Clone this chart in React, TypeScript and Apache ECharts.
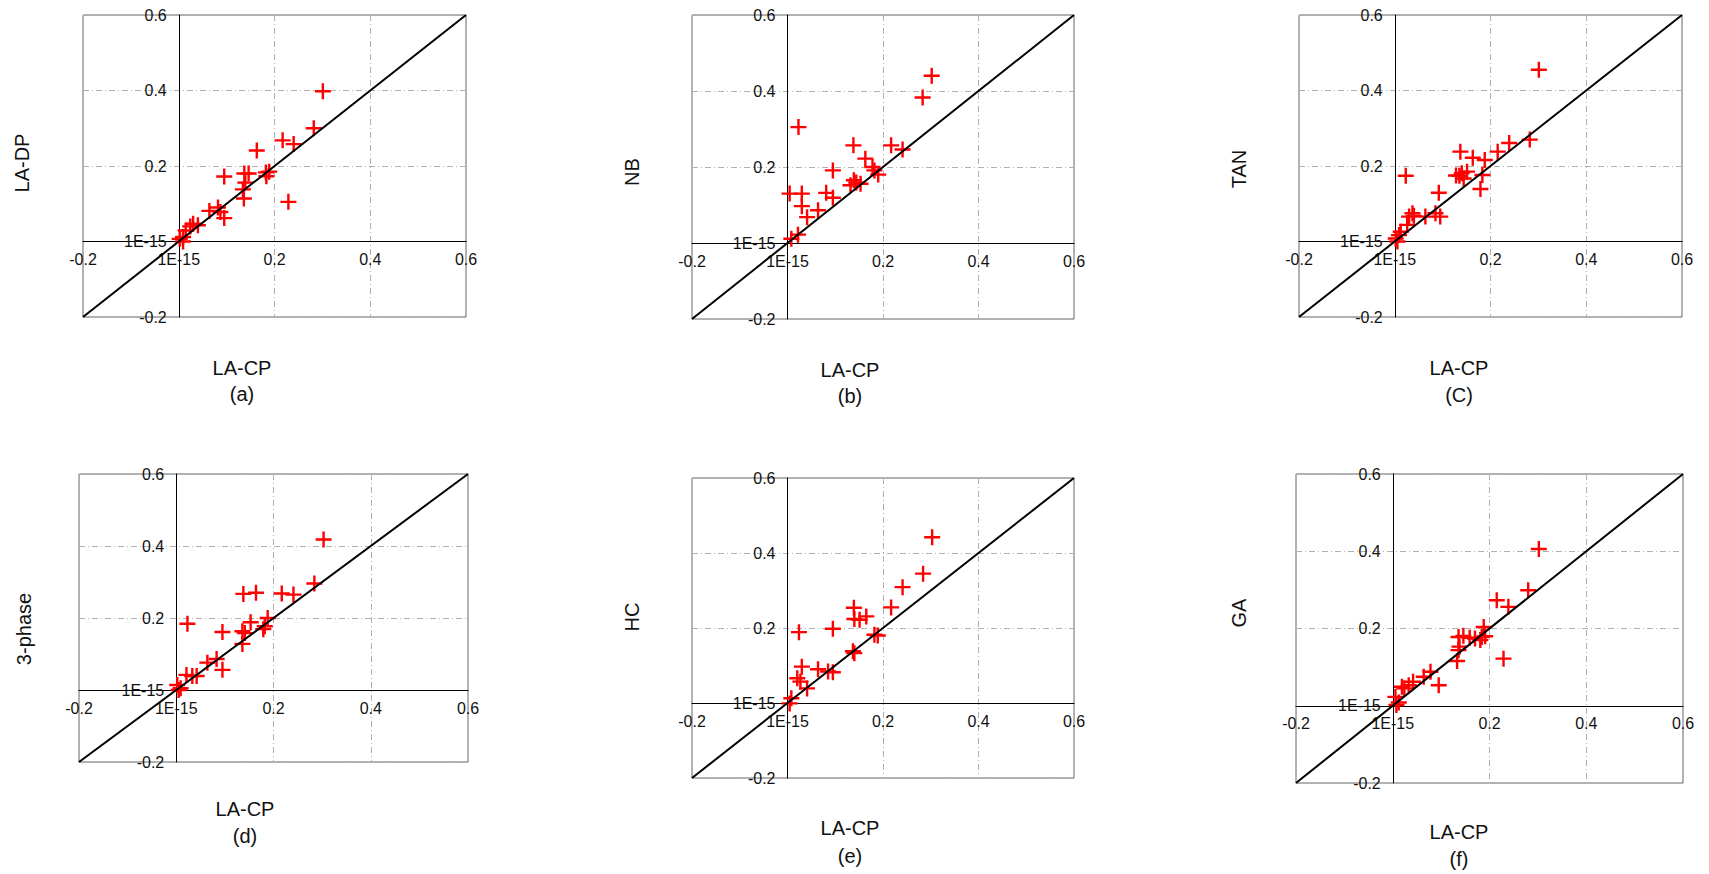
import React, { useEffect, useRef } from "react";
import * as echarts from "echarts";

// LA-CP (x) vs. each method (y)
const ptsLADP: number[][] = [
  [0.301, 0.398], [0.282, 0.3], [0.217, 0.268], [0.24, 0.258], [0.163, 0.241], [0.095, 0.172],
  [0.137, 0.18], [0.146, 0.18], [0.139, 0.156], [0.134, 0.138], [0.136, 0.114], [0.182, 0.183],
  [0.189, 0.185], [0.183, 0.173], [0.229, 0.105], [0.082, 0.09], [0.064, 0.081], [0.095, 0.062],
  [0.087, 0.078], [0.04, 0.043], [0.03, 0.047], [0.024, 0.04], [0.0145, 0.029], [0.009, 0.012],
  [0.009, 0.0], [0.002, 0.007],
];
const ptsNB: number[][] = [
  [0.302, 0.44], [0.283, 0.383], [0.023, 0.305], [0.138, 0.257], [0.217, 0.257], [0.241, 0.246],
  [0.163, 0.222], [0.178, 0.2], [0.182, 0.191], [0.19, 0.18], [0.095, 0.191], [0.139, 0.165],
  [0.144, 0.159], [0.153, 0.156], [0.132, 0.152], [0.081, 0.132], [0.095, 0.119], [0.064, 0.086],
  [0.0045, 0.13], [0.03, 0.13], [0.03, 0.097], [0.041, 0.068], [0.022, 0.022], [0.008, 0.011],
];
const ptsTAN: number[][] = [
  [0.301, 0.455], [0.282, 0.27], [0.239, 0.261], [0.215, 0.238], [0.137, 0.238], [0.163, 0.222],
  [0.188, 0.216], [0.151, 0.185], [0.14, 0.181], [0.135, 0.174], [0.128, 0.175], [0.144, 0.167],
  [0.183, 0.176], [0.179, 0.139], [0.092, 0.129], [0.023, 0.174], [0.037, 0.075], [0.04, 0.068],
  [0.03, 0.066], [0.064, 0.066], [0.085, 0.075], [0.095, 0.066], [0.026, 0.044], [0.0125, 0.026],
  [0.009, 0.017], [0.002, 0.008], [0.0055, 0.0],
];
const pts3Phase: number[][] = [
  [0.303, 0.418], [0.284, 0.296], [0.138, 0.267], [0.164, 0.27], [0.217, 0.268], [0.241, 0.265],
  [0.023, 0.184], [0.153, 0.188], [0.188, 0.2], [0.182, 0.177], [0.179, 0.169], [0.095, 0.161],
  [0.136, 0.163], [0.141, 0.158], [0.136, 0.128], [0.064, 0.076], [0.083, 0.086], [0.095, 0.056],
  [0.021, 0.042], [0.033, 0.039], [0.042, 0.039], [0.002, 0.014], [0.009, 0.005], [0.005, 0.0],
];
const ptsHC: number[][] = [
  [0.303, 0.442], [0.284, 0.345], [0.241, 0.309], [0.217, 0.255], [0.139, 0.254], [0.14, 0.224],
  [0.151, 0.222], [0.165, 0.231], [0.095, 0.198], [0.024, 0.189], [0.182, 0.182], [0.189, 0.18],
  [0.137, 0.138], [0.14, 0.133], [0.03, 0.097], [0.064, 0.09], [0.085, 0.084], [0.095, 0.082],
  [0.0205, 0.066], [0.027, 0.057], [0.041, 0.039], [0.008, 0.0125], [0.0045, -0.001],
];
const ptsGA: number[][] = [
  [0.302, 0.406], [0.28, 0.299], [0.215, 0.273], [0.239, 0.256], [0.188, 0.204], [0.136, 0.178],
  [0.146, 0.181], [0.159, 0.176], [0.17, 0.174], [0.184, 0.178], [0.181, 0.17], [0.191, 0.18],
  [0.138, 0.153], [0.136, 0.144], [0.133, 0.116], [0.229, 0.122], [0.078, 0.088], [0.064, 0.075],
  [0.095, 0.053], [0.042, 0.062], [0.033, 0.053], [0.024, 0.045], [0.019, 0.049], [0.0055, 0.023],
  [0.0124, 0.0086], [0.0076, 0.002],
];

const yNames = ["LA-DP", "NB", "TAN", "3-phase", "HC", "GA"];
const captions = ["(a)", "(b)", "(C)", "(d)", "(e)", "(f)"];
const xName = "LA-CP";
const axisMin = -0.2;
const axisMax = 0.6;
const axisStep = 0.2;
const diagonal = [-0.2, 0.6];

const datasets = [ptsLADP, ptsNB, ptsTAN, pts3Phase, ptsHC, ptsGA];

// layout (pixels)
const grids = [
  { left: 83, top: 15, width: 383, height: 302 },
  { left: 692, top: 15, width: 382, height: 304 },
  { left: 1299, top: 15, width: 383, height: 302 },
  { left: 79, top: 474, width: 389, height: 288 },
  { left: 692, top: 478, width: 382, height: 300 },
  { left: 1296, top: 474, width: 387, height: 309 },
];
const yNamePos = [
  [22, 163], [632, 172], [1239, 169], [24, 629], [632, 617], [1239, 613],
];
const xNamePos = [
  [242, 368], [850, 370], [1459, 368], [245, 809], [850, 828], [1459, 832],
];
const capPos = [
  [242, 394], [850, 396], [1459, 395], [245, 836], [850, 856], [1459, 859],
];

const FONT = "'Liberation Sans', Arial, sans-serif";
const PLUS = "path://M6.8,0h2.4v6.8h6.8v2.4h-6.8v6.8h-2.4v-6.8h-6.8v-2.4h6.8z";

const fmt = (v: number) => (Math.abs(v) < 1e-9 ? "1E-15" : String(+v.toFixed(1)));

export default function App() {
  const ref = useRef<HTMLDivElement>(null);
  useEffect(() => {
    if (!ref.current) return;
    const chart = echarts.init(ref.current, undefined, { renderer: "svg" });
    const splitLine = {
      show: true,
      lineStyle: { color: "#b0b0b0", width: 1, type: [6, 3, 1, 3] },
    };
    // fraction of the axis span from its minimum to zero
    const zeroFrac = (0 - axisMin) / (axisMax - axisMin);
    const axisCommon = {
      type: "value",
      min: axisMin,
      max: axisMax,
      interval: axisStep,
      axisLine: { show: true, onZero: false, lineStyle: { color: "#000", width: 1 } },
      axisTick: { show: false },
      splitLine,
    };
    const graphic: any[] = [];
    yNames.forEach((n, i) => {
      graphic.push({
        type: "text",
        x: yNamePos[i][0],
        y: yNamePos[i][1],
        rotation: Math.PI / 2,
        style: { text: n, font: `20px ${FONT}`, fill: "#111", textAlign: "center", textVerticalAlign: "middle" },
      });
      graphic.push({
        type: "text",
        x: xNamePos[i][0],
        y: xNamePos[i][1],
        style: { text: xName, font: `20px ${FONT}`, fill: "#111", textAlign: "center", textVerticalAlign: "middle" },
      });
      graphic.push({
        type: "text",
        x: capPos[i][0],
        y: capPos[i][1],
        style: { text: captions[i], font: `20px ${FONT}`, fill: "#111", textAlign: "center", textVerticalAlign: "middle" },
      });
    });
    const series: any[] = [];
    datasets.forEach((d, i) => {
      series.push({
        type: "scatter",
        xAxisIndex: i,
        yAxisIndex: i,
        data: d,
        symbol: PLUS,
        symbolSize: 16,
        itemStyle: { color: "#ff0000", opacity: 1 },
        z: 2,
      });
      series.push({
        type: "line",
        xAxisIndex: i,
        yAxisIndex: i,
        data: diagonal.map((v) => [v, v]),
        symbol: "none",
        lineStyle: { color: "#000", width: 2 },
        z: 3,
      });
    });
    chart.setOption({
      animation: false,
      backgroundColor: "#fff",
      grid: grids.map((g) => ({ ...g, show: true, borderColor: "#666", borderWidth: 1, backgroundColor: "transparent" })),
      xAxis: grids.map((g, i) => ({
        ...axisCommon,
        gridIndex: i,
        position: "bottom",
        offset: -g.height * zeroFrac,
        axisLabel: { formatter: fmt, fontSize: 16, fontFamily: FONT, color: "#111", margin: 10 },
      })),
      yAxis: grids.map((g, i) => ({
        ...axisCommon,
        gridIndex: i,
        position: "left",
        offset: -g.width * zeroFrac,
        axisLabel: { formatter: fmt, fontSize: 16, fontFamily: FONT, color: "#111", margin: 12 },
      })),
      series,
      graphic,
    });
    return () => chart.dispose();
  }, []);
  return (
    <div
      ref={ref}
      style={{ position: "absolute", left: 0, top: 0, width: 1709, height: 874 }}
    />
  );
}
